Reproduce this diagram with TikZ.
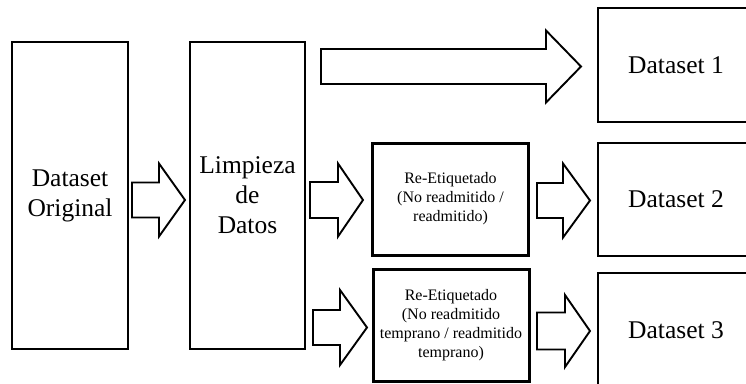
\documentclass[tikz,border=0pt]{standalone}
\usepackage{fontspec}
\setmainfont{Liberation Serif}
\begin{document}
\begin{tikzpicture}[x=1pt,y=-1pt,
  bigbox/.style={draw=black,line width=2.8pt,fill=white,minimum width=#1,inner sep=0pt,align=center,font=\fontsize{25.5}{30}\selectfont},
  relbox/.style={draw=black,line width=3pt,fill=white,minimum width=156pt,minimum height=112pt,inner sep=0pt,align=center,font=\fontsize{16}{19}\selectfont},
  blockarrow/.style={draw=black,line width=1.9pt,fill=white,line join=miter}]
\useasboundingbox (0,0) rectangle (746,383);
\clip (0,0) rectangle (746,383);
\fill[white] (0,0) rectangle (746,383);
% boxes
\node[bigbox=116pt,minimum height=307pt] (orig) at (70,195.5) {Dataset\\Original};
\node[bigbox=115pt,minimum height=307pt] (limp) at (247.5,195.5) {Limpieza\\de\\Datos};
\node[relbox] (re1) at (450.5,199) {Re-Etiquetado\\(No readmitido /\\readmitido)};
\node[relbox] (re2) at (451,325) {Re-Etiquetado\\(No readmitido\\temprano / readmitido\\temprano)};
\node[bigbox=156pt,minimum height=114pt] (ds1) at (676,65) {Dataset 1};
\node[bigbox=156pt,minimum height=113pt] (ds2) at (676,199.5) {Dataset 2};
\node[bigbox=156pt,minimum height=114pt] (ds3) at (676,330) {Dataset 3};
% block arrows: tail, head base, tip, centre y, shaft half, head half
\newcommand\myblockarrow[6]{%
  \draw[blockarrow] (#1,#4-#5) -- (#2,#4-#5) -- (#2,#4-#6) -- (#3,#4) -- (#2,#4+#6) -- (#2,#4+#5) -- (#1,#4+#5) -- cycle;}
\myblockarrow{132}{159}{185}{200}{17.5}{36.5}
\myblockarrow{310}{338}{363}{200}{18}{36.5}
\myblockarrow{313}{340}{367}{327.5}{17.5}{37.5}
\myblockarrow{321}{546}{581}{66.5}{17.5}{36}
\myblockarrow{537}{563}{590}{200.5}{17.5}{37}
\myblockarrow{537}{565}{590}{331}{18.5}{36}
\end{tikzpicture}
\end{document}
